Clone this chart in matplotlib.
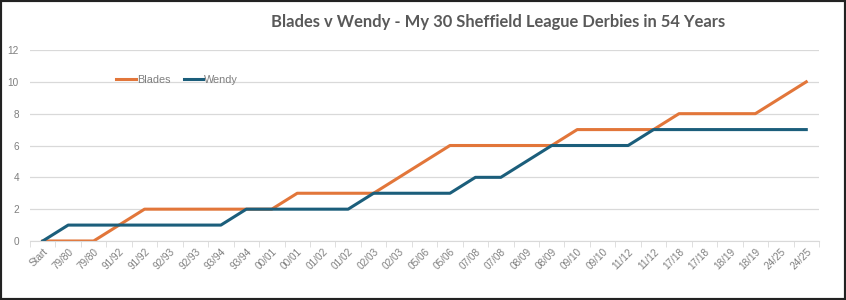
import matplotlib.pyplot as plt
from matplotlib.patches import Rectangle

seasons = ['Start', '79/80', '79/80', '91/92', '91/92', '92/93', '92/93', '93/94', '93/94',
           '00/01', '00/01', '01/02', '01/02', '02/03', '02/03', '05/06', '05/06', '07/08',
           '07/08', '08/09', '08/09', '09/10', '09/10', '11/12', '11/12', '17/18', '17/18',
           '18/19', '18/19', '24/25', '24/25']
blades = [0, 0, 0, 1, 2, 2, 2, 2, 2, 2, 3, 3, 3, 3, 4, 5, 6, 6, 6, 6, 6, 7, 7, 7, 7,
          8, 8, 8, 8, 9, 10]
wendy = [0, 1, 1, 1, 1, 1, 1, 1, 2, 2, 2, 2, 2, 3, 3, 3, 3, 4, 4, 5, 6, 6, 6, 6, 7,
         7, 7, 7, 7, 7, 7]

orange = '#E2763A'
blue = '#1B5E7B'
grey = '#595959'

plt.rcParams['font.family'] = ['Liberation Sans', 'DejaVu Sans']

fig = plt.figure(figsize=(8.46, 3.0), dpi=100)
ax = fig.add_axes([30/846, 1-241/300, (819-30)/846, (241-50)/300])

x = list(range(len(seasons)))
ax.plot(x, blades, color=orange, linewidth=2.2, label='Blades')
ax.plot(x, wendy, color=blue, linewidth=2.2, label='Wendy')

ax.set_xlim(-0.5, len(seasons) - 0.5)
ax.set_ylim(0, 12)
ax.set_yticks(range(0, 13, 2))
ax.set_xticks(x)
ax.set_xticklabels(seasons, rotation=45, ha='right', rotation_mode='anchor',
                   fontsize=7.2, color='#7F7F7F')
ax.set_xticks([i - 0.5 for i in range(len(seasons) + 1)], minor=True)
ax.tick_params(axis='x', which='major', length=0, pad=4)
ax.tick_params(axis='x', which='minor', length=4, color='#D9D9D9')
ax.tick_params(axis='y', length=0, labelsize=7.2, labelcolor='#7F7F7F', pad=8)

ax.grid(True, axis='y', color='#D9D9D9', linewidth=0.9)
ax.set_axisbelow(True)
for s in ['top', 'right', 'left']:
    ax.spines[s].set_visible(False)
ax.spines['bottom'].set_color('#D9D9D9')

fig.text(498/846, 1-22/300, 'Blades v Wendy - My 30 Sheffield League Derbies in 54 Years',
         ha='center', va='center', fontsize=11.9, fontweight='bold', color=grey,
         family='Lato')

fig.legend(loc='center left', bbox_to_anchor=(111/846, 1-80/300), ncol=2,
           frameon=False, fontsize=7.8, handlelength=1.8, handletextpad=0.1,
           columnspacing=1.2, borderpad=0, labelcolor='#7F7F7F')

fig.patches.append(Rectangle((0, 0), 1, 1, transform=fig.transFigure, fill=False,
                             edgecolor='#222222', linewidth=3))

fig.savefig('out.png', dpi=100)
